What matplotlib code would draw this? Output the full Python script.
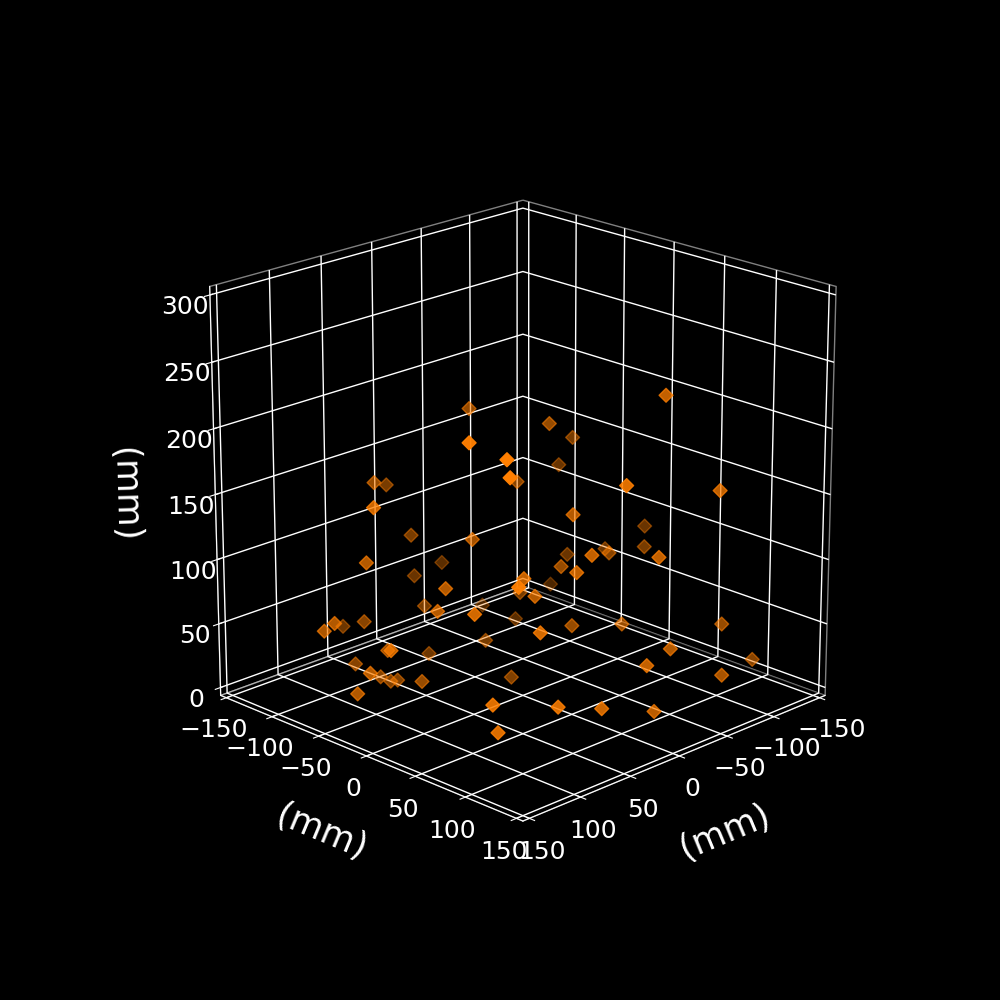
import matplotlib
matplotlib.use('Agg')
import matplotlib.pyplot as plt

# point positions in mm (depth estimated from marker shade)
x = [2, 150, 148, 150, -34, 64, 10, 150, 6, 47, 127, -56, -13, 92, 12,
     100, 126, -94, 74, 150, -41, 49, -85, -27, -36, -96, -110, 50, -45, 16,
     -144, -114, 4, 36, -119, -69, -98, -17, 47, -137, 150, 150, 40, 70, 150,
     86, 3, 82, 144, 71, 60, 55, 74, 150, 150, 150, -8, -14, 97, -12,
     -38, -89, -124, -10, 28, -50, 116, 73, 20]
y = [-53, 99, 133, 138, -40, -88, -133, 4, -111, -4, -29, -143, -128, 15, -91,
     15, 79, -138, 75, 146, -44, 61, -93, 114, -9, -44, -72, 150, 150, 66,
     -15, 13, 138, 104, -32, 20, -51, 22, 100, -107, -49, -38, -150, -94, 20,
     -52, -96, -91, -8, -76, -77, -75, -29, -15, 121, 126, -20, -53, 114, 38,
     63, 114, 113, 137, 150, 150, 150, 150, 150]
z = [203, 251, 247, 236, 141, 153, 126, 180, 91, 127, 124, 44, 49, 107, 42,
     92, 115, 0, 126, 160, 51, 102, 4, 246, 193, 159, 127, 208, 180, 156,
     84, 83, 140, 141, 68, 92, 64, 96, 130, 14, 73, 82, 17, 45, 78,
     39, 0, 16, 51, 7, 0, 0, 18, 35, 67, 48, 0, 18, 103, 56,
     57, 57, 19, 67, 69, 39, 64, 50, 32]

xyticks = [-150, -100, -50, 0, 50, 100, 150]
zticks = [0, 50, 100, 150, 200, 250, 300]

plt.rcParams['axes3d.automargin'] = True

fig = plt.figure(figsize=(10, 10), dpi=100, facecolor='black')
ax = fig.add_subplot(projection='3d', facecolor='black')
ax.view_init(elev=20, azim=45)
ax.set_box_aspect((1, 1, 1), zoom=0.95)

ax.scatter(x, y, z, marker='D', s=50, color='#ff7f00')

ax.set_xlim(-150, 150)
ax.set_ylim(-150, 150)
ax.set_zlim(0, 300)
ax.set_xticks(xyticks)
ax.set_yticks(xyticks)
ax.set_zticks(zticks)

for axis in (ax.xaxis, ax.yaxis, ax.zaxis):
    axis.pane.set_facecolor((0, 0, 0, 0))
    axis.pane.set_edgecolor((1, 1, 1, 0.5))
    axis.line.set_color('white')
    axis._axinfo['grid']['color'] = 'white'
    axis._axinfo['grid']['linewidth'] = 1.0
    axis._axinfo['tick']['color'] = 'white'
    axis.set_rotate_label(True)

ax.tick_params(colors='white', labelsize=18)
ax.set_xlabel('(mm)', fontsize=25, labelpad=20, color='white')
ax.set_ylabel('(mm)', fontsize=25, labelpad=20, color='white')
ax.set_zlabel('(mm)', fontsize=25, labelpad=21.5, color='white')

fig.savefig('out.png', dpi=100, facecolor='black')
